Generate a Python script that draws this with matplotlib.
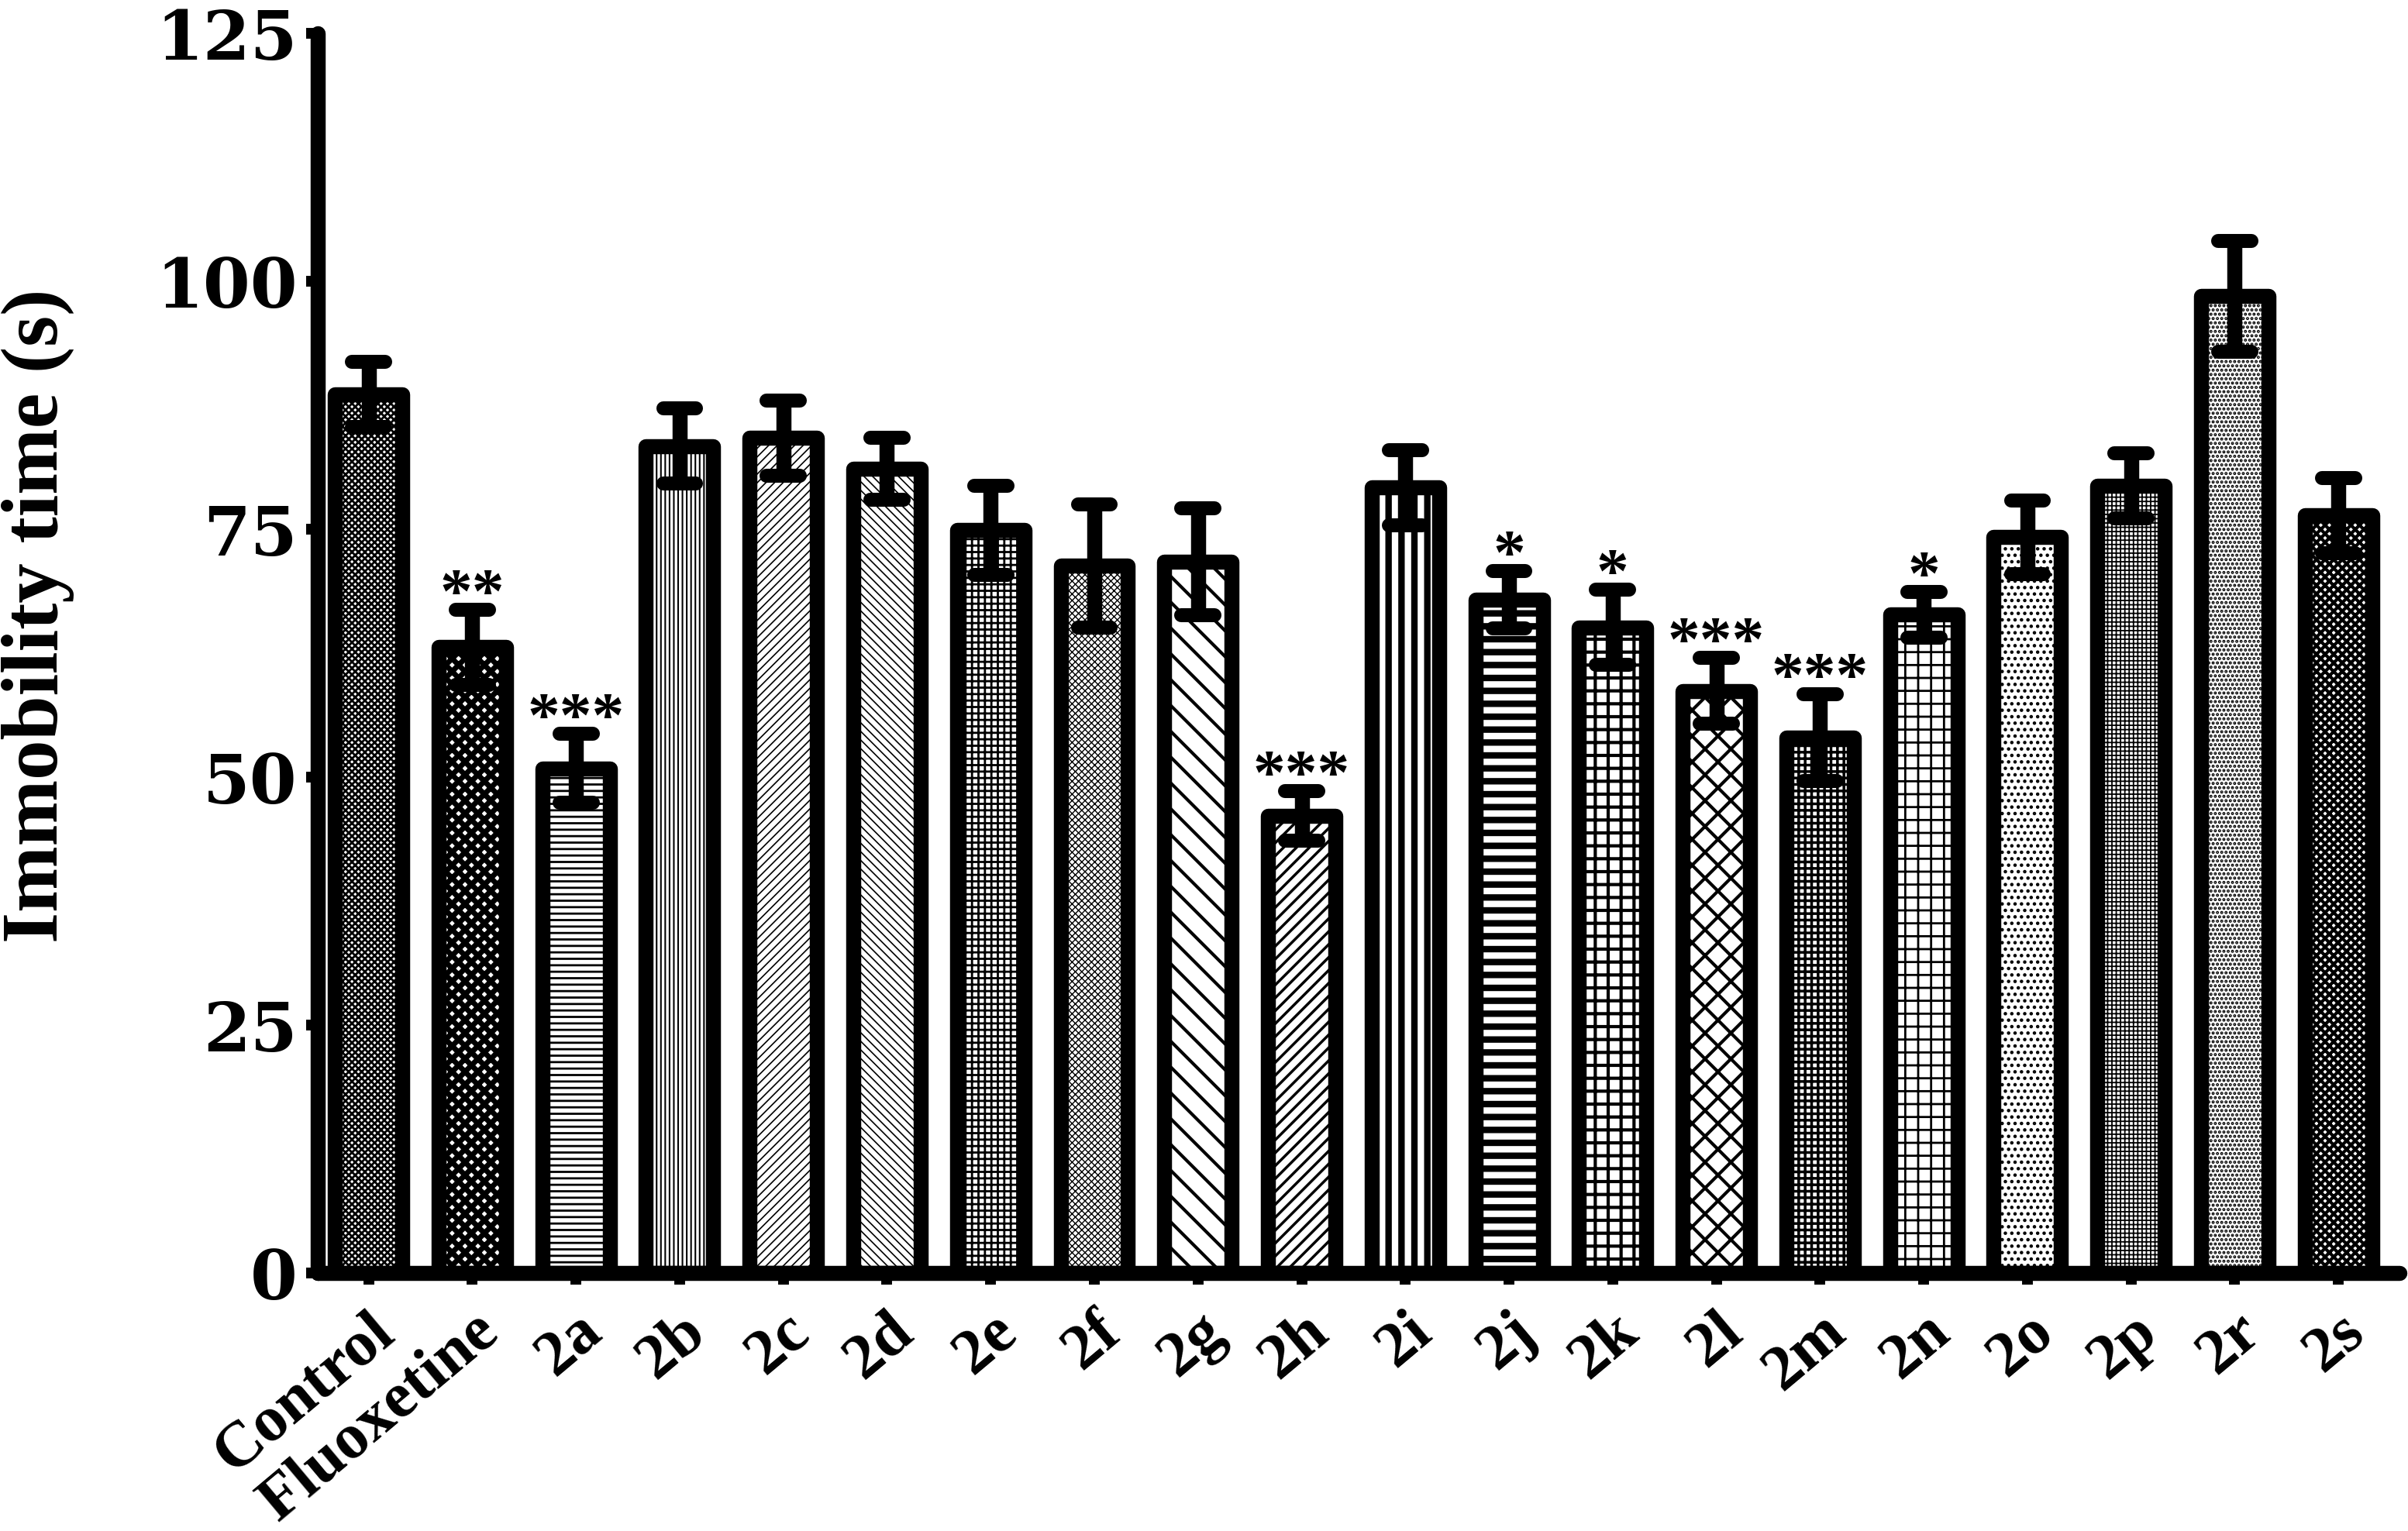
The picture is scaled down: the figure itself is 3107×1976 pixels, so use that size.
import matplotlib
matplotlib.use('Agg')
import matplotlib.pyplot as plt
import numpy as np

groups = ['Control', 'Fluoxetine', '2a', '2b', '2c', '2d', '2e', '2f', '2g', '2h',
          '2i', '2j', '2k', '2l', '2m', '2n', '2o', '2p', '2r', '2s']
means = [88.6, 63.1, 50.9, 83.4, 84.2, 81.1, 74.9, 71.3, 71.7, 46.1,
         79.2, 67.9, 65.1, 58.7, 54.0, 66.4, 74.2, 79.4, 98.5, 76.4]
sems = [3.3, 3.8, 3.5, 3.8, 3.8, 3.1, 4.5, 6.2, 5.4, 2.5,
        3.8, 2.9, 3.8, 3.3, 4.4, 2.3, 3.7, 3.3, 5.6, 3.8]
stars = ['', '**', '***', '', '', '', '', '', '', '***',
         '', '*', '*', '***', '***', '*', '', '', '', '']
yticks = [0, 25, 50, 75, 100, 125]

hatches = ['xxxx', 'xx', '--', '|||', '///', '\\\\\\', '++', 'xxxx', '\\', '//',
           '|', '-', '+', 'x', '++', '+', '..', '+++', '...', 'xxx']
hatch_lws = [2.0, 5.0, 2.0, 1.5, 1.2, 1.2, 2.0, 1.0, 3.0, 2.5,
             6.0, 6.0, 3.0, 3.0, 2.5, 2.0, 2.0, 1.3, 2.0, 3.0]

plt.rcParams['font.family'] = ['Liberation Serif', 'DejaVu Serif']
plt.rcParams['font.weight'] = 'bold'

fig = plt.figure(figsize=(31.07, 19.76), dpi=100)
ax = fig.add_axes([0.132, 0.1685, 0.8645, 0.8097])

x = np.arange(len(groups))
for i in range(len(groups)):
    plt.rcParams['hatch.linewidth'] = hatch_lws[i]
    bars = ax.bar(x[i], means[i], width=0.65, color='white', edgecolor='black',
                  linewidth=14, hatch=hatches[i], zorder=2)
    for b in bars:
        if hasattr(b, 'set_hatch_linewidth'):
            b.set_hatch_linewidth(hatch_lws[i])
        b.set_joinstyle('round')

m = np.array(means)
s = np.array(sems)
ax.vlines(x, m - s, m + s, colors='black', linewidth=14, zorder=3)
caps = ax.hlines(np.concatenate([m - s, m + s]), np.concatenate([x, x]) - 0.16,
                 np.concatenate([x, x]) + 0.16, colors='black', linewidth=13, zorder=3)
caps.set_capstyle('round')

for i, st in enumerate(stars):
    if st:
        ax.annotate(st, (x[i], m[i] + s[i]), xytext=(0, 12), textcoords='offset points',
                    ha='center', va='center', fontsize=60, fontweight='bold', zorder=4)

ax.set_xlim(-0.49, len(groups) - 1 + 0.59)
ax.set_ylim(0, 125)
ax.set_yticks(yticks)
ax.set_yticklabels([str(t) for t in yticks], fontsize=63, fontweight='bold',
                   family='DejaVu Serif')
ax.set_xticks(x)
ax.set_xticklabels(groups, fontsize=60, fontweight='bold', rotation=40,
                   ha='right', va='top', rotation_mode='anchor')
ax.tick_params(axis='both', direction='out', length=11, width=10)
ax.tick_params(axis='x', pad=16)
ax.tick_params(axis='y', pad=8)

for side in ['top', 'right']:
    ax.spines[side].set_visible(False)
for side in ['left', 'bottom']:
    ax.spines[side].set_linewidth(14)
    ax.spines[side].set_capstyle('round')

ax.set_ylabel('Immobility time (s)', fontsize=74, fontweight='bold')
ax.yaxis.set_label_coords(-0.117, 0.53)

fig.savefig('out.png', dpi=100, facecolor='white')
